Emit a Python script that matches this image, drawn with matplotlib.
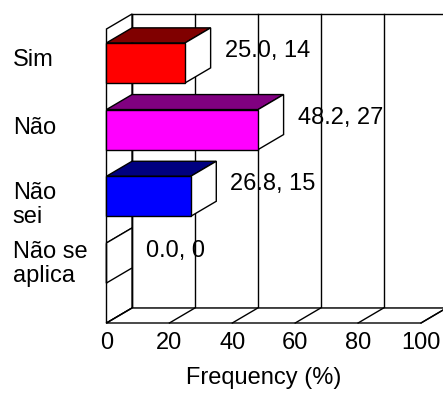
import matplotlib
matplotlib.use("Agg")
import matplotlib.pyplot as plt
from matplotlib.patches import Polygon

# ---- data -------------------------------------------------------------
categories = ["Sim", "Não", "Não\nsei", "Não se\naplica"]
percent = [25.0, 48.2, 26.8, 0.0]
counts = [14, 27, 15, 0]
xticks = [0, 20, 40, 60, 80, 100]
xlabel = "Frequency (%)"

front_colors = ["#FF0000", "#FF00FF", "#0000FF", "#FFFFFF"]
top_colors = ["#800000", "#800080", "#000080", "#FFFFFF"]

# ---- layout ------------------------------------------------------------
W, H = 443, 393
PX_PER_PCT = 3.145          # pixels per percent along the value axis
X0_PX = 106.5               # pixel column of the value 0 on the front plane
PX_PER_ROW = 66.7           # pixels per category row
FLOOR_PX = 323.0            # pixel row of the front floor edge

DX = 25.5 / PX_PER_PCT      # depth offset (value units)
DY = 15.0 / PX_PER_ROW      # depth offset (row units)
WALL_TOP = (FLOOR_PX - 29.0) / PX_PER_ROW
HALF = 0.30                 # half bar thickness (row units)

n = len(categories)
centers = [0.9 + (n - 1 - i) for i in range(n)]   # first category at the top
# first-line baseline of each category label, relative to the bar centre
label_baseline_shift = [-0.047, -0.066, -0.045, 0.082]
LINE_GAP = 24.0 / PX_PER_ROW                      # baseline-to-baseline

FS = 17
FONT = ["Liberation Sans", "DejaVu Sans"]
plt.rcParams["font.family"] = FONT

fig = plt.figure(figsize=(W / 100, H / 100), dpi=100)
ax = fig.add_axes([0, 0, 1, 1])
ax.set_xlim(-X0_PX / PX_PER_PCT, (W - X0_PX) / PX_PER_PCT)
ax.set_ylim((FLOOR_PX - H) / PX_PER_ROW, FLOOR_PX / PX_PER_ROW)
ax.axis("off")

LW = 1.0
xmax = xticks[-1]

# back wall
ax.add_patch(Polygon([(DX, DY), (xmax + DX, DY), (xmax + DX, WALL_TOP + DY),
                      (DX, WALL_TOP + DY)], closed=True, fc="white",
                     ec="black", lw=LW, zorder=1))
for t in xticks:
    ax.plot([t + DX, t + DX], [DY, WALL_TOP + DY], color="black", lw=LW, zorder=1.1)

# left wall
ax.add_patch(Polygon([(0, 0), (DX, DY), (DX, WALL_TOP + DY), (0, WALL_TOP)],
                     closed=True, fc="white", ec="black", lw=LW, zorder=1.2))

# floor
ax.add_patch(Polygon([(0, 0), (xmax, 0), (xmax + DX, DY), (DX, DY)],
                     closed=True, fc="white", ec="black", lw=LW, zorder=1.2))
for t in xticks:
    ax.plot([t, t + DX], [0, DY], color="black", lw=LW, zorder=1.3)

# bars
for i, (v, yc) in enumerate(zip(percent, centers)):
    y0, y1 = yc - HALF, yc + HALF
    front = [(0, y0), (v, y0), (v, y1), (0, y1)]
    top = [(0, y1), (v, y1), (v + DX, y1 + DY), (DX, y1 + DY)]
    side = [(v, y0), (v + DX, y0 + DY), (v + DX, y1 + DY), (v, y1)]
    ax.add_patch(Polygon(top, closed=True, fc=top_colors[i], ec="black",
                         lw=LW, zorder=2, joinstyle="miter"))
    ax.add_patch(Polygon(side, closed=True, fc="white", ec="black",
                         lw=LW, zorder=2, joinstyle="miter"))
    ax.add_patch(Polygon(front, closed=True, fc=front_colors[i], ec="black",
                         lw=LW, zorder=2.1, joinstyle="miter"))
    ax.text(v + DX + 14 / PX_PER_PCT, y1 - 14 / PX_PER_ROW,
            f"{v:.1f}, {counts[i]}", ha="left", va="baseline",
            fontsize=FS, zorder=3)

# category labels: one text per line so the spacing is exact
for i, lab in enumerate(categories):
    base = centers[i] + label_baseline_shift[i]
    for j, line in enumerate(lab.split("\n")):
        ax.text((12.7 - X0_PX) / PX_PER_PCT, base - j * LINE_GAP, line,
                ha="left", va="baseline", fontsize=FS)

# value axis tick labels and title
for t in xticks:
    ax.text(t, (FLOOR_PX - 343) / PX_PER_ROW, str(t), ha="center",
            va="center", fontsize=FS)
ax.text(xmax / 2, (FLOOR_PX - 378) / PX_PER_ROW, xlabel, ha="center",
        va="center", fontsize=FS)

fig.savefig("out.png", dpi=100)
